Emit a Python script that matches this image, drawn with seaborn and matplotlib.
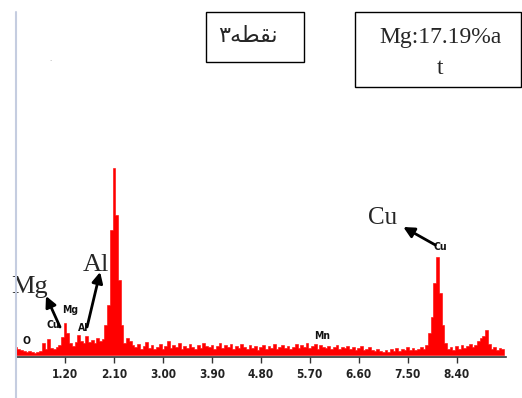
import numpy as np
import pandas as pd
import matplotlib
matplotlib.use("Agg")
import matplotlib.pyplot as plt
from matplotlib.lines import Line2D
from matplotlib.patches import Rectangle
import seaborn as sns

# EDS spectrum, channel width 0.05 keV
energy = np.round(np.arange(0.30, 9.26, 0.05), 2)
counts = [
    8, 6, 5, 4, 3, 4, 3, 2, 3, 4, 12, 6, 16, 7, 6, 8, 10, 18, 32, 22,          # 0.30-1.25
    12, 9, 13, 20, 14, 12, 19, 13, 15, 12, 17, 14, 16, 30, 50, 125, 187, 140, 75, 30,  # 1.30-2.25
    12, 17, 14, 10, 8, 11, 6, 9, 13, 7, 10, 6, 8, 11, 6, 9, 14, 7, 10, 8,      # 2.30-3.25
    12, 6, 9, 7, 11, 8, 6, 10, 7, 12, 9, 8, 10, 6, 9, 12, 7, 10, 8, 11,        # 3.30-4.25
    6, 9, 7, 11, 8, 6, 10, 7, 9, 5, 8, 10, 6, 9, 7, 11, 6, 8, 10, 7,           # 4.30-5.25
    9, 6, 8, 11, 7, 10, 8, 12, 7, 9, 11, 6, 10, 8, 7, 9, 6, 8, 10, 6,          # 5.30-6.25
    8, 7, 9, 6, 8, 5, 7, 9, 5, 6, 8, 5, 4, 6, 4, 3, 5, 3, 6, 4,                # 6.30-7.25
    7, 4, 6, 5, 8, 5, 7, 5, 6, 8, 6, 10, 22, 38, 72, 98, 62, 30, 12, 6,        # 7.30-8.25
    8, 5, 9, 6, 10, 7, 9, 11, 8, 10, 14, 17, 19, 25, 11, 6, 8, 5, 7, 6,        # 8.30-9.25
]
df = pd.DataFrame({"energy": energy, "counts": counts})

tick_pos = [1.20, 2.10, 3.00, 3.90, 4.80, 5.70, 6.60, 7.50, 8.40]

# small peak labels from the instrument (label, energy, height)
peak_labels = ["O", "Cu", "Mg", "Al", "Mn", "Cu"]
peak_x = [0.50, 0.98, 1.29, 1.53, 5.93, 8.11]
peak_y = [14, 30, 45, 27, 19, 108]

sns.set_theme(style="white")
plt.rcParams["font.family"] = ["DejaVu Sans"]
plt.rcParams["font.stretch"] = "condensed"

fig = plt.figure(figsize=(5.22, 3.98), dpi=100)
W, H = 522, 398
ax = fig.add_axes([16.1 / W, (H - 357) / H, (505.5 - 16.1) / W, 345 / H])

sns.histplot(data=df, x="energy", weights="counts", binwidth=0.05,
             binrange=(0.275, 9.275), element="step", fill=True,
             color="#ff0000", alpha=1, linewidth=0.4, ax=ax)

ax.set_xlim(0.30, 9.30)
ax.set_ylim(-2, 343)
ax.set_xlabel("")
ax.set_ylabel("")
ax.set_yticks([])
ax.set_xticks(tick_pos)
ax.set_xticklabels([f"{t:.2f}" for t in tick_pos], fontweight="bold", fontsize=8.5,
                   fontstretch="condensed", color="#222222")
ax.tick_params(axis="x", direction="out", length=4, width=1, color="#333333",
               pad=4, bottom=True)
for s in ["top", "right", "left"]:
    ax.spines[s].set_visible(False)
ax.spines["bottom"].set_color("#333333")
ax.spines["bottom"].set_linewidth(1.2)

for lab, x, y in zip(peak_labels, peak_x, peak_y):
    ax.text(x, y, lab, ha="center", va="center", fontsize=7.5, fontweight="bold",
            fontstretch="condensed", color="#111111")

# large annotations with arrows
serif = ["Liberation Serif", "DejaVu Serif"]
ax.text(0.555, 68, "Mg", ha="center", va="center", fontsize=19, family=serif)
ax.text(1.77, 90, "Al", ha="center", va="center", fontsize=19, family=serif)
ax.text(7.04, 137, "Cu", ha="center", va="center", fontsize=18, family=serif)
arrow = dict(arrowstyle="-|>", lw=2, mutation_scale=16, color="black",
             shrinkA=0, shrinkB=0)
ax.annotate("", xy=(0.85, 59), xytext=(1.108, 28), arrowprops=arrow)
ax.annotate("", xy=(1.845, 83), xytext=(1.605, 28), arrowprops=arrow)
ax.annotate("", xy=(7.42, 128), xytext=(8.01, 110), arrowprops=arrow)

# left frame line of the original image
fig.add_artist(Line2D([16 / W, 16 / W], [0, (H - 12) / H], color="#c5cde0", lw=1.5))

# boxes at the top
fig.add_artist(Rectangle((206 / W, (H - 62) / H), 98 / W, 50 / H, fill=False,
                         edgecolor="black", lw=1))
fig.text(248 / W, (H - 36) / H, "\u06f3\ufeea\ufec4\ufed8\ufee7", ha="center",
         va="center", fontsize=16, family=["DejaVu Sans"], fontstretch="normal")
fig.add_artist(Rectangle((355 / W, (H - 87) / H), 166 / W, 75 / H, fill=False,
                         edgecolor="black", lw=1))
fig.text(440 / W, (H - 37) / H, "Mg:17.19%a", ha="center", va="center",
         fontsize=17, family=serif)
fig.text(440 / W, (H - 68) / H, "t", ha="center", va="center", fontsize=17,
         family=serif)
fig.text(50 / W, (H - 62) / H, "\u00b7", ha="center", va="center", fontsize=6,
         color="#888888")

fig.savefig("out.png", dpi=100)
